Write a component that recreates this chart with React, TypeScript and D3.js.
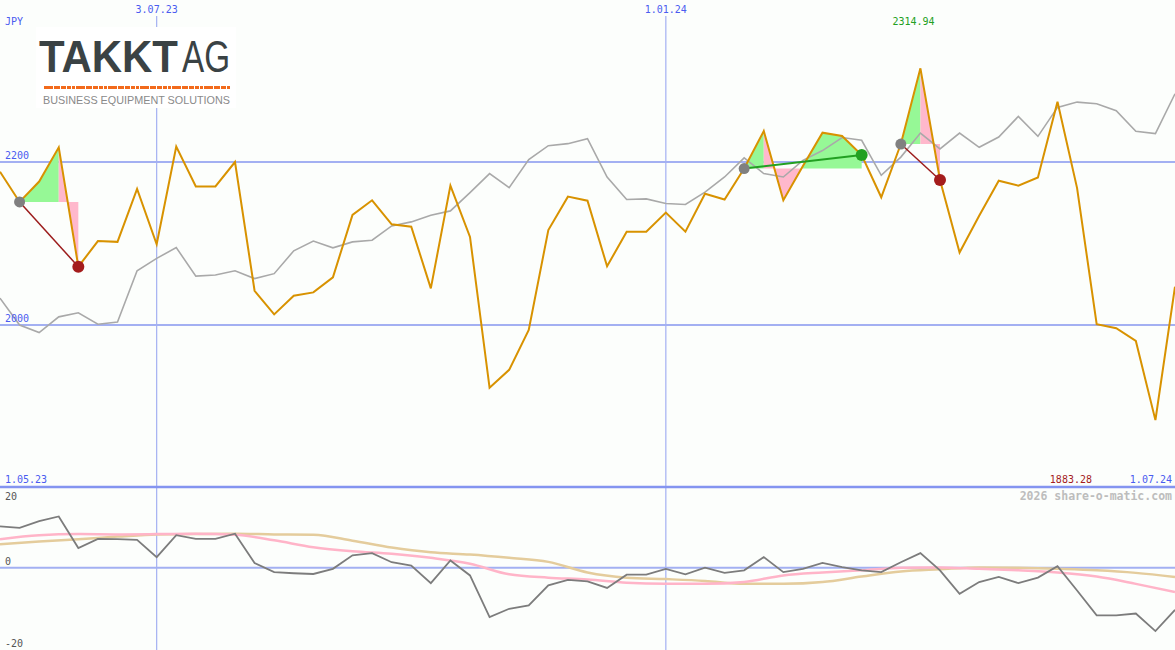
import React from 'react';
import * as d3 from 'd3';

// weekly closes, TAKKT AG in JPY (8.05.23 .. 1.07.24)
const closes = [
  2188, 2151, 2176, 2218, 2071.5, 2103, 2102, 2167, 2099, 2219,
  2170, 2170, 2200, 2042, 2013, 2036, 2040, 2058.5, 2135, 2153,
  2123.5, 2120.6, 2045, 2171, 2108, 1923, 1945, 1994, 2116.5, 2157.5,
  2152.5, 2072, 2114.5, 2114.5, 2138, 2114.5, 2161, 2154, 2192, 2238,
  2153, 2195, 2236, 2232, 2208.6, 2156.7, 2222, 2314.94, 2178, 2089,
  2134, 2177, 2171, 2181, 2274, 2168, 2001, 1996, 1980.5, 1883.28, 2047,
];

// comparison line (grey)
const bench = [
  2033, 2000, 1990.7, 2010, 2015, 2001, 2003.7, 2066.5, 2081.7, 2095,
  2060, 2061.3, 2066.5, 2057, 2063, 2091, 2103, 2094.7, 2102, 2104,
  2121.6, 2126.5, 2134.7, 2140, 2162.5, 2185.8, 2168.6, 2203, 2220, 2222.5,
  2228.6, 2181.6, 2154, 2154.7, 2149, 2147.8, 2163, 2181.6, 2205, 2185.8,
  2181.6, 2202, 2214, 2230, 2226.6, 2183.7, 2206, 2235.5, 2216, 2235.5,
  2218, 2230.6, 2256, 2231.5, 2267, 2273.5, 2271.5, 2263, 2237.6, 2234.8, 2283.7,
];

// lower panel oscillator
const momentum = [
  11.3, 10.9, 12.7, 14.0, 5.4, 7.9, 7.8, 7.6, 2.9, 8.9,
  7.9, 7.9, 9.3, 1.3, -1.2, -1.5, -1.7, -0.3, 3.4, 4.0,
  1.5, 0.6, -4.2, 2.0, -2.1, -13.5, -11.2, -10.3, -4.8, -3.3,
  -3.7, -5.5, -1.9, -1.9, -0.3, -1.8, 0, -1.4, -0.7, 2.9,
  -1.2, -0.3, 1.3, 0.2, -0.7, -1.2, 1.5, 4.0, -0.7, -7.1,
  -3.9, -2.5, -4.2, -2.7, 0.4, -6.2, -13.0, -13.0, -12.5, -17.3, -11.5,
];
// smoothed lines, read at every second week (0, 2, 4 ... 60)
const fastAvg = [
  7.8, 8.9, 9.2, 9.1, 9.2, 9.3, 9.0, 7.5, 5.6, 4.5, 3.8, 2.7, 1.1, -1.8, -2.7, -3.2,
  -4.1, -4.4, -4.4, -3.9, -2.1, -1.3, -0.7, 0, 0.1, -0.3, -0.7, -1.3, -2.4, -4.4, -6.6,
];
const slowAvg = [
  6.4, 7.2, 7.8, 8.5, 9.1, 9.2, 9.3, 9.1, 9.0, 7.4, 5.5, 4.2, 3.6, 2.7, 1.6, -1.3,
  -2.7, -3.1, -3.6, -4.4, -4.4, -3.9, -2.4, -1.0, -0.4, 0.1, 0, -0.3, -0.7, -1.4, -2.5,
];

const dateTicks = [
  { i: 8, label: '3.07.23' },
  { i: 34, label: '1.01.24' },
];
const startLabel = '1.05.23';
const endLabel = '1.07.24';
const priceTicks = [2000, 2200];
const oscTicks = [20, 0, -20];

// swing patterns: start / end week, filled spans (from, to, colour)
const patterns = [
  { start: 1, end: 4, win: false, spans: [[1, 3, 'g'], [3, 4, 'p']] },
  { start: 38, end: 44, win: true, spans: [[38, 39, 'g'], [39, 41, 'p'], [41, 44, 'g']] },
  { start: 46, end: 48, win: false, spans: [[46, 47, 'g'], [47, 48, 'p']] },
];

const W = 1175;
const H = 650;
const BLUE = '#4a5cf0';
const GRID = '#a3b0f2';
const MONO = '"DejaVu Sans Mono", monospace';

export default function App() {
  const x = d3.scaleLinear().domain([0, closes.length - 1]).range([0, W]);
  const y = d3.scaleLinear().domain([2000, 2200]).range([325, 162]);
  const yo = d3.scaleLinear().domain([-20, 20]).range([641, 494.5]);

  const priceLine = d3.line<number>().x((_, i) => x(i)).y(d => y(d));
  const oscLine = d3.line<number>().x((_, i) => x(i)).y(d => yo(d));
  const avgLine = d3.line<number>().x((_, i) => x(i * 2)).y(d => yo(d)).curve(d3.curveMonotoneX);

  const maxI = closes.indexOf(d3.max(closes) as number);
  const minI = closes.indexOf(d3.min(closes) as number);

  return (
    <svg width={W} height={H} style={{ position: 'absolute', left: 0, top: 0, display: 'block' }}>
      <rect x={0} y={0} width={W} height={H} fill="#fcfefc" />

      {/* grid */}
      {dateTicks.map(t => (
        <line key={t.label} x1={x(t.i)} x2={x(t.i)} y1={16} y2={H} stroke={GRID} strokeWidth={1.2} />
      ))}
      {priceTicks.map(v => (
        <line key={v} x1={0} x2={W} y1={y(v)} y2={y(v)} stroke={GRID} strokeWidth={2} />
      ))}
      <line x1={0} x2={W} y1={yo(0)} y2={yo(0)} stroke={GRID} strokeWidth={2} />
      <line x1={0} x2={W} y1={487} y2={487} stroke="#8494f0" strokeWidth={2.5} />

      {/* logo */}
      <rect x={36} y={27} width={200} height={81} fill="#ffffff" />
      <text x={39} y={72} fontFamily="Liberation Sans, Arial, sans-serif" fontWeight="bold" fontSize={45}
        fill="#3a4244" textLength={139} lengthAdjust="spacingAndGlyphs">TAKKT</text>
      <text x={182} y={72} fontFamily="Liberation Sans, Arial, sans-serif" fontWeight="normal" fontSize={45}
        fill="#3a4244" textLength={48} lengthAdjust="spacingAndGlyphs">AG</text>
      <line x1={44} x2={230} y1={87.5} y2={87.5} stroke="#f26a1b" strokeWidth={3} strokeDasharray="9 1 6 1 5 1 4 1 3 1" />
      <text x={43} y={104} fontFamily="Liberation Sans, Arial, sans-serif" fontSize={10.5} fill="#8a8a8a"
        textLength={187} lengthAdjust="spacingAndGlyphs">BUSINESS EQUIPMENT SOLUTIONS</text>

      {/* pattern fills */}
      {patterns.map((p, k) => {
        const base = y(closes[p.start]);
        return p.spans.map(([a, b, c], j) => {
          const idx = d3.range(a as number, (b as number) + 1);
          const area = d3.area<number>().x(i => x(i)).y0(base).y1(i => y(closes[i]));
          return <path key={`${k}-${j}`} d={area(idx) || ''} fill={c === 'g' ? '#96f896' : '#ffb8cc'} />;
        });
      })}

      {/* lines */}
      <path d={priceLine(bench) || ''} fill="none" stroke="#a9a9a9" strokeWidth={1.6} />
      <path d={priceLine(closes) || ''} fill="none" stroke="#d89200" strokeWidth={2} />

      {/* pattern markers */}
      {patterns.map((p, k) => {
        const c = p.win ? '#22a022' : '#9c1c1c';
        return (
          <g key={k}>
            <line x1={x(p.start)} y1={y(closes[p.start])} x2={x(p.end)} y2={y(closes[p.end])}
              stroke={c} strokeWidth={p.win ? 2 : 1.5} />
            <circle cx={x(p.start)} cy={y(closes[p.start])} r={5.5} fill="#808080" />
            <circle cx={x(p.end)} cy={y(closes[p.end])} r={6} fill={p.win ? '#22a022' : '#a41c1c'} />
          </g>
        );
      })}

      {/* lower panel */}
      <path d={avgLine(slowAvg) || ''} fill="none" stroke="#e4cc9c" strokeWidth={2.5} />
      <path d={avgLine(fastAvg) || ''} fill="none" stroke="#ffb4c8" strokeWidth={2.5} />
      <path d={oscLine(momentum) || ''} fill="none" stroke="#7c7c7c" strokeWidth={1.8} />

      {/* labels */}
      <g fontFamily={MONO} fontSize={10}>
        <text x={5} y={25} fill={BLUE}>JPY</text>
        {dateTicks.map(t => (
          <text key={t.label} x={x(t.i)} y={13} fill={BLUE} textAnchor="middle">{t.label}</text>
        ))}
        {priceTicks.map(v => (
          <text key={v} x={5} y={y(v) - 3} fill={BLUE}>{v}</text>
        ))}
        <text x={x(maxI) - 28} y={25} fill="#22a022">{closes[maxI].toFixed(2)}</text>
        <text x={5} y={483} fill={BLUE}>{startLabel}</text>
        <text x={W - 3} y={483} fill={BLUE} textAnchor="end">{endLabel}</text>
        <text x={W - 83} y={483} fill="#a41c1c" textAnchor="end">{closes[minI].toFixed(2)}</text>
        {oscTicks.map(v => (
          <text key={v} x={5} y={v === 20 ? yo(v) + 5.5 : v === 0 ? yo(v) - 3 : yo(v) + 6} fill="#555">{v}</text>
        ))}
      </g>
      <text x={W - 3} y={500} fontFamily={MONO} fontSize={11.5} fontWeight="bold" fill="#bdbdbd" textAnchor="end">
        2026 share-o-matic.com
      </text>
    </svg>
  );
}
